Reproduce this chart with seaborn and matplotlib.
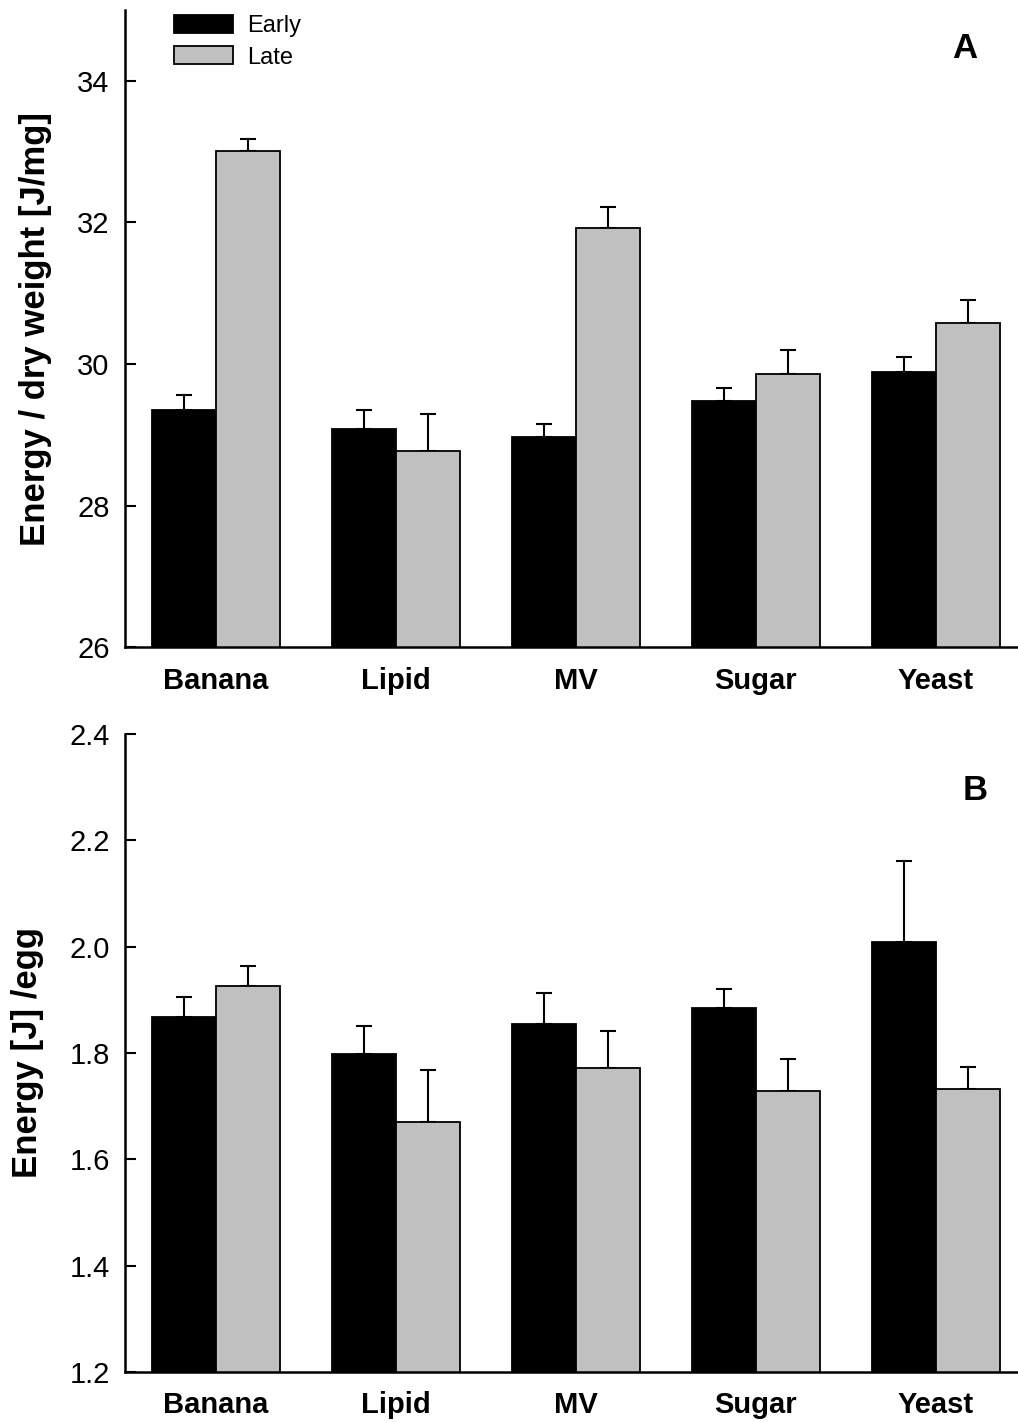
import matplotlib
matplotlib.use("Agg")
import matplotlib.pyplot as plt
import seaborn as sns
import pandas as pd
from matplotlib.ticker import FormatStrFormatter

# values
foods = ["Banana", "Lipid", "MV", "Sugar", "Yeast"]
stages = ["Early", "Late"]

dry_early = [29.35, 29.08, 28.97, 29.48, 29.89]
dry_late = [33.01, 28.77, 31.92, 29.86, 30.58]
dry_early_se = [0.21, 0.27, 0.19, 0.18, 0.21]
dry_late_se = [0.17, 0.53, 0.30, 0.34, 0.32]

egg_early = [1.867, 1.798, 1.854, 1.885, 2.009]
egg_late = [1.925, 1.671, 1.772, 1.728, 1.732]
egg_early_se = [0.038, 0.052, 0.059, 0.036, 0.152]
egg_late_se = [0.038, 0.097, 0.070, 0.060, 0.042]


def make_frame(early, late, early_se, late_se):
    return pd.DataFrame({
        "food": foods * 2,
        "stage": ["Early"] * len(foods) + ["Late"] * len(foods),
        "value": early + late,
        "se": early_se + late_se,
    })


sns.set_style("ticks")
plt.rcParams["font.family"] = ["Liberation Sans", "DejaVu Sans"]
plt.rcParams.update({
    "text.color": "black", "axes.labelcolor": "black", "axes.edgecolor": "black",
    "xtick.color": "black", "ytick.color": "black",
})

fig = plt.figure(figsize=(10.18, 14.22), dpi=100)
ax_a = fig.add_axes([0.1228, 0.5447, 0.8772, 0.4483])
ax_b = fig.add_axes([0.1228, 0.0352, 0.8772, 0.4487])

panels = [
    (ax_a, make_frame(dry_early, dry_late, dry_early_se, dry_late_se),
     "Energy / dry weight [J/mg]", (26, 35), [26, 28, 30, 32, 34], "A", "%d",
     -0.082, (0.94, 0.939)),
    (ax_b, make_frame(egg_early, egg_late, egg_early_se, egg_late_se),
     "Energy [J] /egg", (1.2, 2.4), [1.2, 1.4, 1.6, 1.8, 2.0, 2.2, 2.4], "B", "%.1f",
     -0.091, (0.952, 0.911)),
]

for ax, df, ylabel, ylim, yticks, letter, fmt, lab_x, letter_xy in panels:
    sns.barplot(data=df, x="food", y="value", hue="stage", order=foods, hue_order=stages,
                palette=["black", "#c0c0c0"], edgecolor="black", linewidth=1.3,
                width=0.71, errorbar=None, saturation=1, ax=ax, zorder=2)

    # upper-only error bars on top of each bar
    for container, stage in zip(ax.containers, stages):
        sub = df[df["stage"] == stage].set_index("food").loc[foods]
        xs = [b.get_x() + b.get_width() / 2 for b in container]
        tops = [b.get_height() for b in container]
        ax.errorbar(xs, tops, yerr=[[0] * len(xs), sub["se"].values], fmt="none",
                    ecolor="black", elinewidth=1.5, capsize=6, capthick=1.5, zorder=1)

    ax.set_ylim(*ylim)
    ax.set_xlim(-0.506, 4.456)
    ax.set_yticks(yticks)
    ax.yaxis.set_major_formatter(FormatStrFormatter(fmt))
    ax.set_xlabel("")
    ax.set_ylabel(ylabel, fontsize=25, fontweight="bold")
    ax.yaxis.set_label_coords(lab_x, 0.5)
    ax.tick_params(axis="y", direction="in", length=8, width=1.5, labelsize=21, pad=11)
    ax.tick_params(axis="x", length=0, labelsize=21, pad=14)
    for lbl in ax.get_xticklabels():
        lbl.set_fontweight("bold")
    for side in ["top", "right"]:
        ax.spines[side].set_visible(False)
    for side in ["left", "bottom"]:
        ax.spines[side].set_linewidth(1.8)
    ax.text(letter_xy[0], letter_xy[1], letter, transform=ax.transAxes,
            fontsize=25, fontweight="bold", ha="center", va="center")

ax_a.legend(loc="upper left", bbox_to_anchor=(0.05, 1.0), frameon=False, fontsize=17,
            handlelength=2.5, handleheight=0.8, labelspacing=0.4, handletextpad=0.6,
            borderaxespad=0, borderpad=0.2)
ax_b.get_legend().remove()

fig.savefig("out.png", dpi=100)
